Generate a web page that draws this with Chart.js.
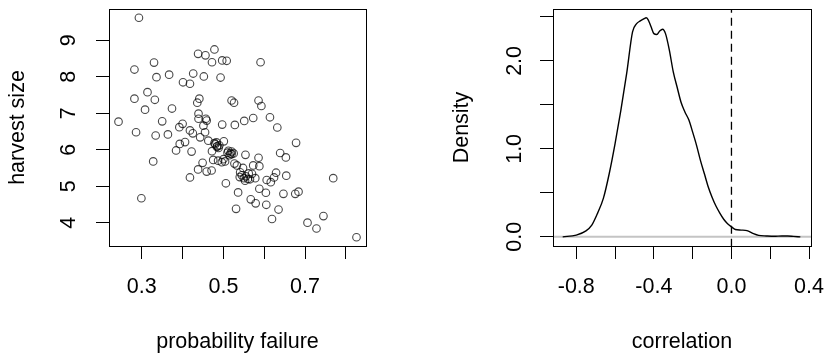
<!DOCTYPE html>
<html>
<head>
<meta charset="utf-8">
<script src="https://cdn.jsdelivr.net/npm/chart.js@4.4.1/dist/chart.umd.min.js"></script>
<style>
  html, body { margin: 0; padding: 0; background: #fff; }
  #wrap { position: relative; width: 825px; height: 356px; }
  canvas { position: absolute; top: 0; }
  #left { left: 0; }
  #right { left: 412px; }
</style>
</head>
<body>
<div id="wrap">
  <canvas id="left" width="412" height="356"></canvas>
  <canvas id="right" width="413" height="356"></canvas>
</div>
<script>
// ---- left panel: harvest size vs probability failure ----
var probFailure = [0.293,0.438,0.456,0.478,0.472,0.497,0.508,0.591,0.330,0.282,0.336,0.367,0.426,0.452,0.401,0.418,0.493,0.314,0.282,0.332,
  0.308,0.374,0.441,0.436,0.520,0.526,0.586,0.593,0.243,0.439,0.439,0.457,0.459,0.350,0.400,0.392,0.451,0.418,0.425,0.455,
  0.497,0.528,0.551,0.573,0.614,0.632,0.286,0.334,0.364,0.443,0.393,0.406,0.384,0.422,0.463,0.480,0.485,0.490,0.488,0.478,
  0.483,0.501,0.510,0.520,0.515,0.525,0.520,0.512,0.472,0.475,0.487,0.496,0.504,0.449,0.438,0.459,0.471,0.418,0.328,0.299,
  0.506,0.536,0.531,0.554,0.533,0.541,0.545,0.550,0.555,0.560,0.553,0.573,0.586,0.588,0.570,0.578,0.565,0.588,0.604,0.567,
  0.579,0.605,0.619,0.635,0.606,0.616,0.624,0.629,0.654,0.639,0.653,0.678,0.647,0.676,0.684,0.706,0.728,0.745,0.769,0.826,
  0.527,0.548,0.562,0.540,0.500,0.517,0.484];
var harvestSize = [9.62,8.63,8.59,8.75,8.40,8.45,8.44,8.40,8.39,8.20,7.99,8.06,8.09,8.01,7.85,7.81,7.98,7.58,7.40,7.37,
  7.10,7.13,7.40,7.29,7.35,7.29,7.35,7.20,6.77,6.99,6.85,6.85,6.80,6.78,6.71,6.62,6.66,6.53,6.45,6.48,
  6.69,6.68,6.79,6.87,6.89,6.61,6.48,6.39,6.42,6.34,6.16,6.21,5.98,5.95,6.25,6.15,6.10,6.12,6.05,6.18,
  6.20,6.23,5.92,5.88,5.85,5.90,5.95,5.97,5.96,5.72,5.70,5.66,5.68,5.64,5.46,5.40,5.43,5.24,5.68,4.67,
  5.08,4.83,4.38,5.86,5.57,5.38,5.30,5.22,5.27,5.20,5.15,5.57,5.78,5.55,5.34,5.22,5.19,4.93,4.82,4.64,
  4.53,4.49,4.10,4.36,5.17,5.11,5.24,5.37,5.29,5.91,5.79,6.19,4.79,4.79,4.85,4.00,3.84,4.18,5.22,3.60,
  5.62,5.50,5.35,5.25,5.74,5.90,6.08];
var leftXTicks = [0.3, 0.4, 0.5, 0.6, 0.7, 0.8];
var leftXLabels = ['0.3', '', '0.5', '', '0.7', ''];
var leftYTicks = [4, 5, 6, 7, 8, 9];
var leftYLabels = ['4', '5', '6', '7', '8', '9'];

// ---- right panel: density of correlation ----
var corrX = [-0.87,-0.80,-0.75,-0.72,-0.69,-0.66,-0.63,-0.60,-0.57,-0.54,-0.51,-0.49,-0.47,-0.45,-0.44,-0.43,-0.415,-0.40,-0.385,-0.37,
  -0.355,-0.34,-0.32,-0.30,-0.28,-0.26,-0.24,-0.22,-0.20,-0.18,-0.16,-0.14,-0.12,-0.10,-0.08,-0.06,-0.04,-0.02,0.0,0.02,
  0.05,0.08,0.11,0.14,0.18,0.22,0.26,0.29,0.32,0.355];
var corrDensity = [0.0,0.02,0.068,0.133,0.27,0.44,0.72,1.06,1.44,1.86,2.33,2.42,2.455,2.48,2.49,2.47,2.39,2.31,2.30,2.34,
  2.36,2.31,2.12,1.875,1.70,1.53,1.42,1.33,1.19,1.04,0.87,0.72,0.57,0.45,0.35,0.27,0.20,0.15,0.114,0.084,
  0.077,0.07,0.04,0.017,0.01,0.006,0.01,0.01,0.005,0.0];
var rightXTicks = [-0.8, -0.6, -0.4, -0.2, 0.0, 0.2, 0.4];
var rightXLabels = ['-0.8', '', '-0.4', '', '0.0', '', '0.4'];
var rightYTicks = [0, 0.5, 1, 1.5, 2, 2.5];
var rightYLabels = ['0.0', '', '1.0', '', '2.0', ''];

var FONT = { family: '"Liberation Sans", Arial, sans-serif', size: 21.5 };

function pts(xs, ys) { return xs.map(function(x, i) { return { x: x, y: ys[i] }; }); }

// box round the plot and R-style rotated y labels
var framePlugin = {
  id: 'frame',
  afterDraw: function(chart, args, opts) {
    var a = chart.chartArea, ctx = chart.ctx, ys = chart.scales.y;
    ctx.save();
    ctx.strokeStyle = '#000'; ctx.lineWidth = 1;
    ctx.strokeRect(Math.round(a.left) + 0.5, Math.round(a.top) + 0.5, Math.round(a.right - a.left), Math.round(a.bottom - a.top));
    ctx.font = FONT.size + 'px ' + FONT.family;
    ctx.fillStyle = '#000'; ctx.textAlign = 'center'; ctx.textBaseline = 'alphabetic';
    (opts.ticks || []).forEach(function(v, i) {
      var lbl = opts.labels[i]; if (!lbl) return;
      ctx.save();
      ctx.translate(a.left - opts.offset, ys.getPixelForValue(v));
      ctx.rotate(-Math.PI / 2);
      ctx.fillText(lbl, 0, 0);
      ctx.restore();
    });
    ctx.restore();
  }
};

function xAxis(min, max, ticks, labels, title) {
  return {
    type: 'linear', min: min, max: max,
    afterBuildTicks: function(s) { s.ticks = ticks.map(function(v) { return { value: v }; }); },
    afterFit: function(s) { s.height = 110; s.paddingLeft = 0; s.paddingRight = 0; },
    grid: { drawOnChartArea: false, drawTicks: true, tickLength: 13, color: '#000', lineWidth: 1 },
    border: { display: true, color: '#000', width: 1 },
    ticks: { autoSkip: false, maxRotation: 0, minRotation: 0, padding: 15, color: '#000', font: FONT,
      callback: function(v, i) { return labels[i]; } },
    title: { display: true, text: title, color: '#000', font: FONT, padding: { top: 0, bottom: 1 } }
  };
}

function yAxis(min, max, ticks, width, title, titlePad) {
  return {
    type: 'linear', min: min, max: max,
    afterBuildTicks: function(s) { s.ticks = ticks.map(function(v) { return { value: v }; }); },
    afterFit: function(s) { s.width = width; s.paddingTop = 0; s.paddingBottom = 0; },
    grid: { drawOnChartArea: false, drawTicks: true, tickLength: 13, color: '#000', lineWidth: 1 },
    border: { display: true, color: '#000', width: 1 },
    ticks: { display: false },
    title: { display: true, text: title, color: '#000', font: FONT, padding: { top: titlePad, bottom: 0 } }
  };
}

new Chart(document.getElementById('left'), {
  type: 'scatter',
  data: { datasets: [{
    data: pts(probFailure, harvestSize),
    pointStyle: 'circle', pointRadius: 3.8, pointBorderWidth: 1.1,
    pointBackgroundColor: 'rgba(0,0,0,0)', pointBorderColor: 'rgba(0,0,0,0.72)'
  }] },
  options: {
    responsive: false, animation: false,
    layout: { padding: { left: 0, top: 9, right: 46, bottom: 0 } },
    plugins: { legend: { display: false }, tooltip: { enabled: false },
      frame: { ticks: leftYTicks, labels: leftYLabels, offset: 34 } },
    scales: {
      x: xAxis(0.2197, 0.8493, leftXTicks, leftXLabels, 'probability failure'),
      y: yAxis(3.36, 9.86, leftYTicks, 109, 'harvest size', 5)
    }
  },
  plugins: [framePlugin]
});

new Chart(document.getElementById('right'), {
  type: 'scatter',
  data: { datasets: [
    { data: pts(corrX, corrDensity), showLine: true, borderColor: '#000', borderWidth: 1.4,
      pointRadius: 0, cubicInterpolationMode: 'monotone', fill: false, clip: 0 },
    { data: [{ x: -2, y: 0 }, { x: 2, y: 0 }], showLine: true, borderColor: '#c4c4c4', borderWidth: 2,
      pointRadius: 0, clip: 0 },
    { data: [{ x: 0, y: -1 }, { x: 0, y: 5 }], showLine: true, borderColor: '#000', borderWidth: 1.3,
      borderDash: [8, 5], pointRadius: 0, clip: 0 }
  ] },
  options: {
    responsive: false, animation: false,
    layout: { padding: { left: 0, top: 9, right: 14, bottom: 0 } },
    plugins: { legend: { display: false }, tooltip: { enabled: false },
      frame: { ticks: rightYTicks, labels: rightYLabels, offset: 32 } },
    scales: {
      x: xAxis(-0.92, 0.41, rightXTicks, rightXLabels, 'correlation'),
      y: yAxis(-0.104, 2.59, rightYTicks, 141, 'Density', 37)
    }
  },
  plugins: [framePlugin]
});
</script>
</body>
</html>
